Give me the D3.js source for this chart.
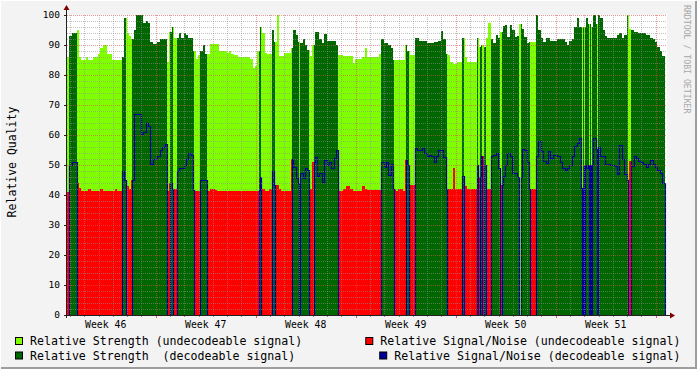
<!DOCTYPE html>
<html>
<head>
<meta charset="utf-8">
<script src="https://cdn.jsdelivr.net/npm/d3@7"></script>
<style>
  html, body { margin: 0; padding: 0; background: #f3f3f3; }
  svg { display: block; }
  text { font-family: 'DejaVu Sans Mono', monospace; fill: #000; }
</style>
</head>
<body>
<svg id="chart" width="697" height="369"></svg>
<script>
// hours since the left edge of the graph; one sample every 4 hours
const STEP = 4;
const START_HOUR = 19; // graph starts 19h after monday 00:00 of week 46

const weekLabels = ['Week 46', 'Week 47', 'Week 48', 'Week 49', 'Week 50', 'Week 51'];
const yTicks = [0, 10, 20, 30, 40, 50, 60, 70, 80, 90, 100];

// relative strength (%), per 4h sample
const strength = [
  86, 93, 94, 94, 95, 86, 85, 85, 86, 85, 85, 86, 86, 87, 89, 90, 90, 87, 87, 85,
  85, 85, 85, 86, 99, 94, 93, 92, 95, 100, 100, 100, 97.5, 98, 97.5, 91, 90.5, 90.5, 91, 92,
  92, 92, 84.5, 94.5, 96, 92.5, 92.3, 94, 92.3, 94, 93.4, 92.3, 92.3, 88, 85.5, 86.8, 88, 90, 87, 87,
  90.5, 90.5, 90.5, 90.5, 88, 88, 88, 87.5, 88, 87, 86.8, 86.8, 86, 86, 86, 86, 86, 85.2, 82.5, 83,
  88, 96, 94, 87.4, 87, 87, 95, 91, 100, 86.2, 86.2, 87.3, 87.3, 87.3, 89, 95, 93.2, 91, 90.6, 92.1,
  90, 88.5, 86.2, 90, 94.5, 94.5, 92, 90.6, 93.6, 91.2, 91.2, 91.2, 91.2, 90, 86.7, 86.7, 86.2, 86.2, 86.2, 86.2,
  84, 85.5, 85.5, 85.5, 86, 89, 86, 86, 86, 86, 86, 87, 92, 90.6, 90.6, 90, 89, 85, 85, 85,
  85, 85, 90, 88, 86.7, 86.7, 92.3, 92.3, 91.5, 91.5, 91.5, 90.8, 90.8, 90.8, 91, 91, 91.5, 94.8, 92, 87,
  86.7, 84.5, 83.6, 83.6, 84.5, 84.5, 92.3, 86, 84.3, 84.3, 84.3, 84.3, 92.3, 89.5, 90, 89.5, 92.3, 97.3, 92, 90.6,
  93.4, 92.3, 94.5, 96.2, 96.7, 92.8, 96.7, 95, 92.8, 93, 97, 95.5, 92.8, 90.6, 91, 91, 91, 100, 95, 92.5,
  91, 92.5, 92.3, 91.5, 91.5, 91.5, 92, 92, 92, 91, 90, 91.5, 92, 96, 99, 96, 96, 96, 99, 97,
  96, 100, 97, 100, 99, 95, 93, 92.5, 92.5, 92.5, 92.5, 93.5, 94, 92.5, 93.5, 100, 95.5, 95, 94.5, 94.5,
  94, 94, 94, 93.5, 93.5, 92.5, 92, 91, 89.5, 88, 86.5
];

// relative signal/noise (%), per 4h sample
const snr = [
  41, 50, 51, 51, 44, 42.4, 41.3, 41.3, 41.3, 42, 41.3, 41.3, 41.3, 41.3, 42, 41.3, 41.3, 41.3, 41.3, 41.3,
  42, 41.3, 41.3, 48, 45, 43, 42, 45, 67, 67, 67, 60.5, 61, 64, 63, 50.5, 52, 52, 53, 55,
  56, 57, 41.5, 44, 42, 42, 48, 49, 49, 50, 52, 54, 53.5, 41.5, 41.5, 41.5, 45, 45, 45, 41.3,
  42, 42, 41.8, 41.3, 41.3, 41.3, 41.3, 41.3, 41.3, 41.3, 41.3, 41.3, 41.3, 41.3, 41.3, 41.3, 41.3, 41.3, 41.3, 41.3,
  41.5, 46, 42, 41.3, 41.3, 42, 48, 43.2, 43.2, 42, 41.2, 41.2, 41.2, 41.2, 52, 49.5, 45.5, 44, 47.5, 45.5,
  49, 48.5, 42, 51, 52.8, 46.2, 47.5, 44.5, 51.7, 50, 51, 49, 52.3, 55, 41.3, 41.3, 42, 43, 43, 42,
  41.3, 41.3, 41.3, 41.3, 43, 42, 41.8, 41.8, 41.8, 41.8, 41.8, 41.8, 51, 49.2, 51, 46.7, 50.5, 42, 41.5, 42,
  42, 41.5, 51.7, 50, 43.2, 43.2, 55.8, 55, 55, 55.8, 54, 53, 53.4, 53, 51, 53, 55, 55, 52.8, 42,
  42, 42, 49, 42, 42, 42, 46.2, 43, 42, 42, 42, 42, 50, 46, 53, 50, 42, 42, 53, 53.2,
  54, 49, 43.5, 46.3, 50, 54, 53, 47.5, 47.5, 46, 46, 55.2, 55, 51, 42, 42, 42, 53, 58, 54.6,
  51.3, 50.7, 54.6, 52.4, 53.2, 53.5, 53, 51, 49, 48.5, 49, 50, 53, 56.3, 57.4, 59.1, 42.4, 50, 49, 50,
  50, 59, 55.2, 56, 53, 53, 50.2, 50.5, 50, 50, 49.6, 47, 56.8, 52, 47, 45, 51.3, 49.6, 53, 52.4,
  51.3, 51, 50.2, 49.5, 50.5, 51.8, 50.5, 49.3, 48.5, 47.4, 44
];

// [from, to] hours where the signal was decodeable
const decodedSpans = [
  [3.4, 16.0], [91.6, 99.1], [110.0, 167.5], [173.0, 177.6], [185.3, 213.4], [223.4, 236.0],
  [322.6, 325.9], [344.4, 348.6], [378.5, 406.6], [414.5, 455.8], [527.0, 549.4], [569.0, 574.6],
  [584.1, 637.9], [664.1, 667.0], [688.0, 690.5], [694.3, 696.7], [700.6, 703.1], [712.3, 727.4],
  [731.6, 777.8], [787.9, 864.4], [866.9, 943.0], [947.0, 1004]
];

// [from, to] hours without any reading (undecodeable, no s/n value)
const gapSpans = [
  [390.3, 391.7], [759.4, 761.9], [868.6, 870.6], [877.0, 878.6], [880.2, 882.2], [890.2, 892.6]
];

const colors = {
  strengthUndec: '#80ff00',
  strengthDec: '#006600',
  snrUndec: '#ff0000',
  snrDec: '#000099'
};

const W = 697, H = 369;
const plot = { left: 67, right: 667, top: 15, bottom: 315 };

const svg = d3.select('#chart');

// frame
svg.append('rect').attr('width', W).attr('height', H).attr('fill', '#f3f3f3');
svg.append('path').attr('d', `M0.5,${H - 0.5}V0.5H${W - 0.5}`).attr('fill', 'none').attr('stroke', '#ffffff').attr('stroke-width', 1);
svg.append('path').attr('d', `M1,${H - 1}H${W - 1}V1`).attr('fill', 'none').attr('stroke', '#9e9e9e').attr('stroke-width', 2);

const x = d3.scaleLinear().domain([0, 1008]).range([plot.left, plot.right]);
const y = d3.scaleLinear().domain([0, 100]).range([plot.bottom, plot.top]);

// canvas
svg.append('rect')
    .attr('x', plot.left).attr('y', plot.top)
    .attr('width', plot.right - plot.left).attr('height', plot.bottom - plot.top)
    .attr('fill', '#ffffff');

// build piecewise rows from samples and state spans
const end = strength.length * STEP;
const cuts = new Set(d3.range(0, end + STEP / 2, STEP));
decodedSpans.concat(gapSpans).forEach(([a, b]) => { cuts.add(a); cuts.add(b); });
const ts = [...cuts].filter(t => t <= end).sort((a, b) => a - b);

const inSpan = (spans, t) => spans.some(([a, b]) => t >= a && t < b);

const rows = ts.slice(0, -1).map((t0, k) => {
    const mid = (t0 + ts[k + 1]) / 2;
    const i = Math.min(strength.length - 1, Math.floor(mid / STEP));
    const gap = inSpan(gapSpans, mid);
    const dec = !gap && inSpan(decodedSpans, mid);
    return { t: t0, s: strength[i], n: snr[i], dec: dec, gap: gap };
});
rows.push({ t: end, s: 0, n: 0, dec: false, gap: true });

const area = (fn) => d3.area()
    .x(d => x(d.t))
    .y0(y(0))
    .y1(d => y(fn(d)))
    .curve(d3.curveStepAfter);

const data = svg.append('g').attr('class', 'data');

data.append('path')
    .datum(rows)
    .attr('d', area(d => d.dec ? 0 : d.s))
    .attr('fill', colors.strengthUndec)
    .attr('shape-rendering', 'crispEdges');

data.append('path')
    .datum(rows)
    .attr('d', area(d => d.dec ? d.s : 0))
    .attr('fill', colors.strengthDec)
    .attr('shape-rendering', 'crispEdges');

data.append('path')
    .datum(rows)
    .attr('d', area(d => (!d.dec && !d.gap) ? d.n : 0))
    .attr('fill', colors.snrUndec)
    .attr('shape-rendering', 'crispEdges');

data.append('path')
    .datum(rows)
    .attr('d', d3.line()
        .x(d => Math.round(x(d.t)) + 0.5)
        .y(d => Math.round(y(d.dec ? d.n : 0)) + 0.5)
        .curve(d3.curveStepAfter))
    .attr('fill', 'none')
    .attr('stroke', colors.snrDec)
    .attr('stroke-width', 1.2);

// grid
const grid = svg.append('g').attr('class', 'grid');

d3.range(0, 101, 2).filter(v => v % 10 !== 0).forEach(v => {
    grid.append('line')
        .attr('x1', plot.left).attr('x2', plot.right)
        .attr('y1', Math.round(y(v)) + 0.5).attr('y2', Math.round(y(v)) + 0.5)
        .attr('stroke', 'rgba(143,143,143,0.55)')
        .attr('stroke-dasharray', '1,1');
});

yTicks.filter(v => v > 0).forEach(v => {
    grid.append('line')
        .attr('x1', plot.left).attr('x2', plot.right)
        .attr('y1', Math.round(y(v)) + 0.5).attr('y2', Math.round(y(v)) + 0.5)
        .attr('stroke', 'rgba(222,79,79,0.6)')
        .attr('stroke-dasharray', '1,1');
});

const dayHours = d3.range(24, 1008 + START_HOUR, 24).map(h => h - START_HOUR);
dayHours.forEach(h => {
    const major = (h + START_HOUR) % 168 === 0;
    const gx = Math.round(x(h)) + 0.5;
    grid.append('line')
        .attr('x1', gx).attr('x2', gx)
        .attr('y1', plot.top).attr('y2', plot.bottom)
        .attr('stroke', major ? 'rgba(222,79,79,0.6)' : 'rgba(143,143,143,0.55)')
        .attr('stroke-dasharray', '1,1');
    grid.append('line')
        .attr('x1', gx).attr('x2', gx)
        .attr('y1', plot.bottom).attr('y2', plot.bottom + (major ? 3 : 2))
        .attr('stroke', major ? 'rgba(222,79,79,0.9)' : '#8f8f8f');
});

// axes
const axis = svg.append('g').attr('class', 'axis');
axis.append('line')
    .attr('x1', plot.left - 0.5).attr('x2', plot.left - 0.5)
    .attr('y1', plot.bottom + 3).attr('y2', 10)
    .attr('stroke', '#212121');
axis.append('line')
    .attr('x1', plot.left - 3).attr('x2', 670)
    .attr('y1', plot.bottom + 0.5).attr('y2', plot.bottom + 0.5)
    .attr('stroke', '#212121');
axis.append('path')
    .attr('d', `M${plot.left - 3.5},10L${plot.left - 0.5},5L${plot.left + 2.5},10Z`)
    .attr('fill', '#800000');
axis.append('path')
    .attr('d', `M670,${plot.bottom - 2.5}L675,${plot.bottom + 0.5}L670,${plot.bottom + 3.5}Z`)
    .attr('fill', '#800000');

yTicks.forEach(v => {
    axis.append('line')
        .attr('x1', plot.left - 3).attr('x2', plot.left)
        .attr('y1', Math.round(y(v)) + 0.5).attr('y2', Math.round(y(v)) + 0.5)
        .attr('stroke', '#212121');
    axis.append('text')
        .attr('x', plot.left - 7)
        .attr('y', y(v))
        .attr('dy', '0.35em')
        .attr('text-anchor', 'end')
        .style('font-size', '9.5px')
        .text(v);
});

weekLabels.forEach((label, k) => {
    axis.append('text')
        .attr('x', x(84 + 168 * k - START_HOUR))
        .attr('y', 328)
        .attr('text-anchor', 'middle')
        .style('font-size', '9.8px')
        .text(label);
});

// titles
svg.append('text')
    .attr('transform', 'translate(16,162) rotate(-90)')
    .attr('text-anchor', 'middle')
    .style('font-size', '11.5px')
    .text('Relative Quality');

svg.append('text')
    .attr('transform', 'translate(684,5) rotate(90)')
    .attr('text-anchor', 'start')
    .style('font-size', '8.2px')
    .style('fill', '#a8a8a8')
    .text('RRDTOOL / TOBI OETIKER');

// legend
const legend = [
    { label: 'Relative Strength (undecodeable signal)', color: colors.strengthUndec, col: 0, row: 0 },
    { label: 'Relative Signal/Noise (undecodeable signal)', color: colors.snrUndec, col: 1, row: 0 },
    { label: 'Relative Strength  (decodeable signal)', color: colors.strengthDec, col: 0, row: 1 },
    { label: 'Relative Signal/Noise (decodeable signal)', color: colors.snrDec, col: 1, row: 1 }
];

const lg = svg.append('g').attr('class', 'legend');
legend.forEach(d => {
    const charW = 6.97;
    const textX = d.col === 0 ? 30 : 680 - d.label.length * charW;
    const rowY = d.row === 0 ? 337 : 351.5;
    lg.append('rect')
        .attr('x', textX - 14.5).attr('y', rowY + 0.5)
        .attr('width', 7).attr('height', 7)
        .attr('fill', d.color)
        .attr('stroke', '#000')
        .attr('stroke-width', 1);
    lg.append('text')
        .attr('x', textX)
        .attr('y', rowY + 8)
        .attr('xml:space', 'preserve')
        .style('font-size', '11.6px')
        .style('white-space', 'pre')
        .text(d.label);
});
</script>
</body>
</html>
